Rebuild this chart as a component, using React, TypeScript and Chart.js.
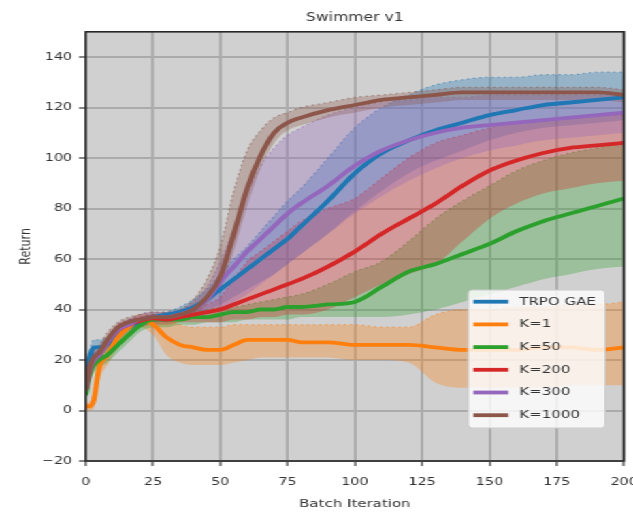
import React, { useEffect, useRef } from 'react';
import { Chart, registerables } from 'chart.js';

Chart.register(...registerables);

// Batch iteration sample positions
const xs = [0, 1, 2, 3, 5, 8, 12, 16, 20, 25, 30, 35, 40, 45, 50, 55, 60, 65, 70, 75, 80, 90, 100, 110, 120, 130, 140, 150, 160, 170, 180, 190, 200];

const seriesLabels = ['TRPO GAE', 'K=1', 'K=50', 'K=200', 'K=300', 'K=1000'];
const seriesColors = ['#1f77b4', '#ff7f0e', '#2ca02c', '#d62728', '#9467bd', '#8c564b'];

const xTicks = [0, 25, 50, 75, 100, 125, 150, 175, 200];
const yTicks = [-20, 0, 20, 40, 60, 80, 100, 120, 140];

// TRPO GAE
const blueMean = [10, 18, 23, 25, 25, 26, 30, 33, 35, 37, 38, 39, 41, 44, 48, 52, 56, 60, 64, 68, 73, 83, 94, 102, 107, 111, 114, 117, 119, 121, 122, 123, 124];
const blueLow = [6, 14, 20, 22, 22, 24, 28, 31, 33, 35, 36, 37, 38, 40, 42, 45, 48, 51, 54, 58, 62, 70, 79, 87, 94, 99, 103, 107, 110, 112, 113, 114, 115];
const blueHigh = [13, 21, 26, 28, 28, 29, 33, 36, 37, 38, 39, 41, 44, 48, 54, 60, 65, 71, 77, 83, 88, 100, 112, 120, 125, 129, 131, 132, 132, 133, 133, 134, 134];

// K=1
const orangeMean = [2, 1.5, 2, 4, 17, 22, 29, 33, 36, 34, 29, 26, 25, 24, 24, 26, 28, 28, 28, 28, 27, 27, 26, 26, 26, 25, 24, 24, 24, 25, 25, 24, 25];
const orangeLow = [0, 0, 0, 1, 12, 18, 25, 30, 33, 30, 22, 19, 18, 18, 18, 19, 20, 21, 21, 21, 21, 21, 20, 20, 19, 11, 9, 9, 9, 9, 10, 10, 10];
const orangeHigh = [4, 3, 4, 8, 21, 26, 32, 35, 38, 38, 36, 34, 33, 33, 33, 34, 34, 34, 34, 34, 34, 34, 34, 33, 33, 38, 40, 40, 41, 41, 42, 42, 43];

// K=50
const greenMean = [6, 12, 16, 18, 20, 22, 26, 30, 33.5, 36, 36, 36, 37, 37, 38, 39, 39, 40, 40, 41, 41, 42, 43, 49, 55, 58, 62, 66, 71, 75, 78, 81, 84];
const greenLow = [4, 9, 13, 15, 17, 19, 23, 27, 31, 33, 33, 34, 34, 35, 35, 35, 36, 36, 36, 36, 37, 37, 37, 37, 38, 40, 43, 46, 49, 52, 54, 56, 57];
const greenHigh = [8, 15, 19, 21, 23, 25, 29, 33, 36, 38, 38, 38, 39, 40, 41, 41, 42, 43, 44, 45, 46, 50, 55, 59, 67, 76, 83, 89, 95, 99, 102, 104, 106];

// K=200
const redMean = [8, 14, 18, 20, 22, 27, 32, 34, 35.5, 36.5, 36, 37, 38, 39, 40, 42, 44, 46, 48, 50, 52, 57, 63, 70, 76, 82, 89, 95, 99, 102, 104, 105, 106];
const redLow = [6, 11, 15, 17, 20, 25, 29, 32, 33, 34, 34, 35, 35, 35, 35, 36, 36, 37, 37, 38, 38, 40, 45, 50, 54, 58, 67, 76, 82, 86, 88, 90, 91];
const redHigh = [10, 17, 21, 23, 24, 29, 34, 36, 37, 38, 38, 39, 40, 42, 45, 52, 59, 63, 67, 71, 75, 80, 84, 92, 100, 106, 109, 112, 114, 115, 116, 117, 117];

// K=300
const purpleMean = [8, 14, 18, 20, 22, 27, 32, 34, 36, 37, 37, 38, 40, 44, 51, 57, 63, 68, 73, 78, 82, 89, 97, 103, 107, 110, 112, 113, 114, 115, 116, 117, 118];
const purpleLow = [6, 11, 15, 17, 20, 25, 29, 32, 34, 35, 35, 36, 37, 38, 40, 43, 46, 50, 54, 58, 62, 70, 78, 85, 91, 96, 100, 103, 105, 107, 108, 109, 110];
const purpleHigh = [10, 17, 21, 23, 24, 29, 34, 36, 38, 39, 39, 40, 43, 49, 59, 72, 86, 97, 104, 109, 112, 117, 120, 122, 123, 124, 124, 125, 125, 125, 125, 125, 125];

// K=1000
const brownMean = [8, 15, 19, 21, 23, 28, 33, 35, 36, 37, 37, 38, 40, 45, 53, 70, 88, 101, 110, 114, 116, 119, 121, 123, 124, 125, 126, 126, 126, 126, 126, 126, 125];
const brownLow = [6, 12, 16, 18, 20, 25, 30, 33, 34, 35, 35, 36, 38, 42, 48, 63, 81, 96, 106, 111, 113, 116, 118, 120, 121, 122, 123, 123, 123, 123, 123, 123, 122];
const brownHigh = [10, 18, 22, 24, 26, 31, 35, 37, 38, 39, 39, 40, 44, 52, 65, 87, 103, 111, 116, 118, 120, 122, 124, 125, 126, 127, 128, 128, 128, 128, 128, 128, 127];

const means = [blueMean, orangeMean, greenMean, redMean, purpleMean, brownMean];
const lows = [blueLow, orangeLow, greenLow, redLow, purpleLow, brownLow];
const highs = [blueHigh, orangeHigh, greenHigh, redHigh, purpleHigh, brownHigh];

const FONT = 'DejaVu Sans';
const W = 465;
const H = 514;
const SX = 633 / W;

function rgba(hex: string, a: number) {
  const n = parseInt(hex.slice(1), 16);
  return `rgba(${(n >> 16) & 255},${(n >> 8) & 255},${n & 255},${a})`;
}

const pts = (arr: number[]) => xs.map((x, i) => ({ x, y: arr[i] }));

const decorPlugin = {
  id: 'decor',
  beforeDraw(chart: any) {
    const { ctx, chartArea: a } = chart;
    ctx.save();
    ctx.fillStyle = '#d0d0d0';
    ctx.fillRect(a.left, a.top, a.right - a.left, a.bottom - a.top);
    ctx.restore();
  },
  afterDraw(chart: any) {
    const { ctx, chartArea: a } = chart;
    ctx.save();
    ctx.strokeStyle = '#262626';
    ctx.lineWidth = 1.6;
    ctx.strokeRect(a.left, a.top, a.right - a.left, a.bottom - a.top);

    // legend inside the plot, lower right
    const bx = 344, by = 290, bw = 100.5, bh = 138;
    ctx.beginPath();
    const r = 3;
    ctx.moveTo(bx + r, by);
    ctx.lineTo(bx + bw - r, by);
    ctx.quadraticCurveTo(bx + bw, by, bx + bw, by + r);
    ctx.lineTo(bx + bw, by + bh - r);
    ctx.quadraticCurveTo(bx + bw, by + bh, bx + bw - r, by + bh);
    ctx.lineTo(bx + r, by + bh);
    ctx.quadraticCurveTo(bx, by + bh, bx, by + bh - r);
    ctx.lineTo(bx, by + r);
    ctx.quadraticCurveTo(bx, by, bx + r, by);
    ctx.closePath();
    ctx.fillStyle = 'rgba(255,255,255,0.8)';
    ctx.fill();
    ctx.strokeStyle = '#cccccc';
    ctx.lineWidth = 1;
    ctx.stroke();

    ctx.font = `11px "${FONT}"`;
    ctx.textBaseline = 'middle';
    ctx.textAlign = 'left';
    seriesLabels.forEach((lab, k) => {
      const cy = 301.7 + k * 22.7;
      ctx.strokeStyle = seriesColors[k];
      ctx.lineWidth = 3.8;
      ctx.beginPath();
      ctx.moveTo(347.7, cy);
      ctx.lineTo(373.4, cy);
      ctx.stroke();
      ctx.fillStyle = '#333333';
      ctx.fillText(lab, 381.5, cy);
    });
    ctx.restore();
  },
};

export default function App() {
  const ref = useRef<HTMLCanvasElement | null>(null);

  useEffect(() => {
    if (!ref.current) return;
    const datasets: any[] = [];
    means.forEach((m, i) => {
      datasets.push({
        label: seriesLabels[i],
        data: pts(m),
        borderColor: seriesColors[i],
        borderWidth: 3.8,
        pointRadius: 0,
        fill: false,
        cubicInterpolationMode: 'monotone',
        order: 5 - i,
      });
    });
    means.forEach((_, i) => {
      const lowIdx = datasets.length;
      datasets.push({
        label: '',
        data: pts(lows[i]),
        borderColor: 'rgba(0,0,0,0)',
        borderWidth: 0,
        pointRadius: 0,
        fill: false,
        cubicInterpolationMode: 'monotone',
        order: 20 - i,
      });
      datasets.push({
        label: '',
        data: pts(highs[i]),
        borderColor: rgba(seriesColors[i], 0.55),
        borderWidth: 1.2,
        borderDash: [1.5, 3],
        pointRadius: 0,
        fill: { target: lowIdx },
        backgroundColor: rgba(seriesColors[i], 0.32),
        cubicInterpolationMode: 'monotone',
        order: 20 - i,
      });
    });

    const gridOpts = { color: '#ababab', lineWidth: 2, tickLength: 5, tickColor: '#333333', tickWidth: 1.2 };

    const chart = new Chart(ref.current, {
      type: 'line',
      data: { datasets },
      options: {
        animation: false,
        responsive: true,
        maintainAspectRatio: false,
        devicePixelRatio: 1,
        layout: { padding: { left: 0, right: 6.6, top: 0, bottom: 0 } },
        plugins: {
          legend: { display: false },
          tooltip: { enabled: false },
          title: {
            display: true,
            text: 'Swimmer v1',
            fullSize: false,
            color: '#333333',
            font: { family: FONT, size: 11.5, weight: 'normal' },
            padding: { top: 11, bottom: 7 },
          },
        },
        scales: {
          x: {
            type: 'linear',
            min: 0,
            max: 200,
            z: 1,
            grid: gridOpts,
            border: { display: false },
            ticks: {
              stepSize: 25,
              autoSkip: false,
              maxRotation: 0,
              padding: 10,
              color: '#333333',
              font: { family: FONT, size: 10.5 },
            },
            afterBuildTicks: (s: any) => {
              s.ticks = xTicks.map((v) => ({ value: v }));
            },
            title: {
              display: true,
              text: 'Batch Iteration',
              color: '#333333',
              font: { family: FONT, size: 11 },
              padding: { top: 0, bottom: 3 },
            },
            afterFit: (s: any) => {
              s.height = 53;
              s.paddingLeft = 0;
              s.paddingRight = 0;
            },
          },
          y: {
            type: 'linear',
            min: -20,
            max: 150,
            z: 1,
            grid: gridOpts,
            border: { display: false },
            ticks: {
              stepSize: 20,
              padding: 5,
              color: '#333333',
              font: { family: FONT, size: 10.5 },
              callback: (v: any) => (Number(v) < 0 ? '\u2212' + Math.abs(Number(v)) : String(v)),
            },
            afterBuildTicks: (s: any) => {
              s.ticks = yTicks.map((v) => ({ value: v }));
            },
            title: {
              display: true,
              text: 'Return',
              color: '#333333',
              font: { family: FONT, size: 11 },
              padding: { top: 13, bottom: 0 },
            },
            afterFit: (s: any) => {
              s.width = 63;
              s.paddingTop = 0;
              s.paddingBottom = 0;
            },
          },
        },
      },
      plugins: [decorPlugin],
    });
    return () => chart.destroy();
  }, []);

  return (
    <div
      style={{
        position: 'absolute',
        left: 0,
        top: 0,
        width: W,
        height: H,
        transform: `scaleX(${SX})`,
        transformOrigin: '0 0',
        background: '#ffffff',
      }}
    >
      <canvas ref={ref} />
    </div>
  );
}
